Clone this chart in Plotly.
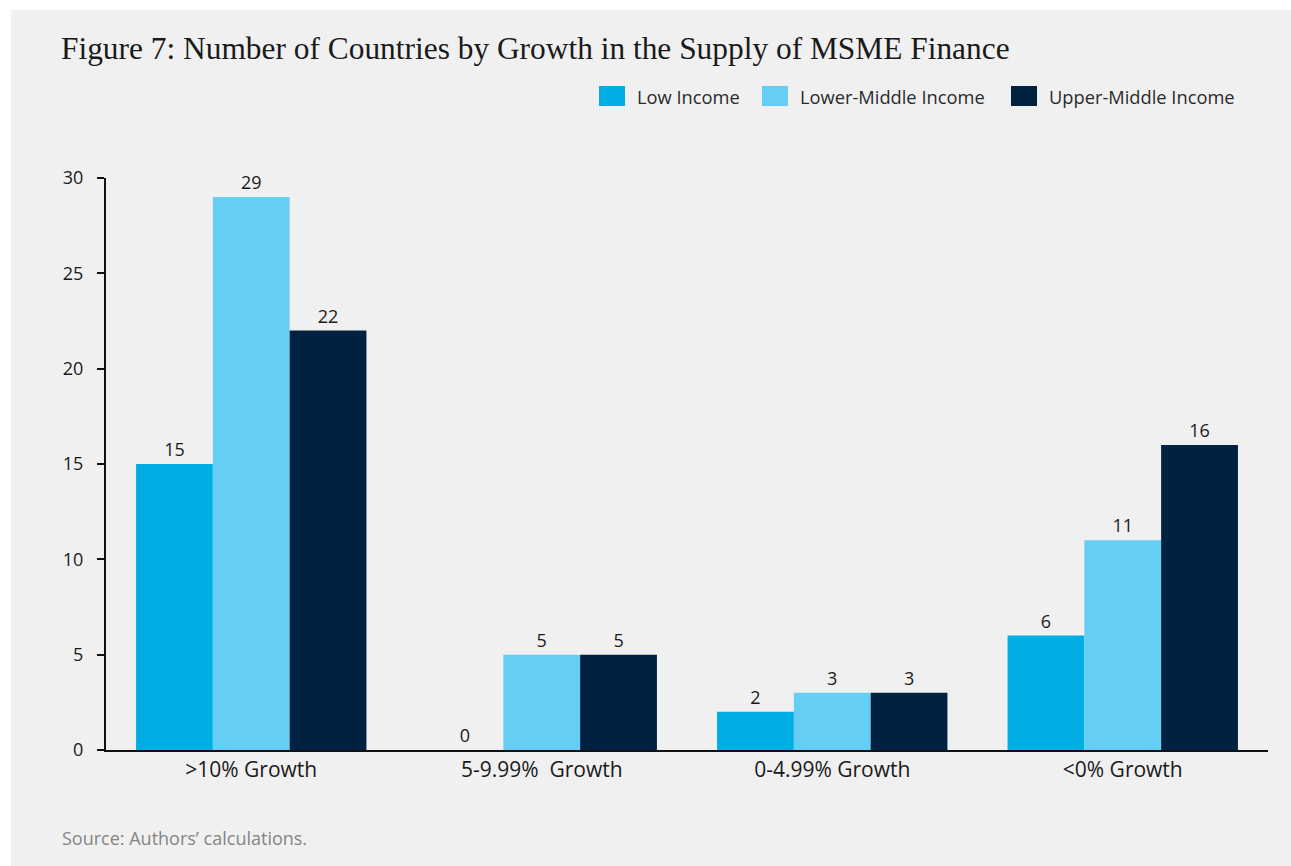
import plotly.graph_objects as go

# Growth bands on the x axis and country counts per income group
categories = [">10% Growth", "5-9.99%\u00a0\u00a0Growth", "0-4.99% Growth", "<0% Growth"]
series_names = ["Low Income", "Lower-Middle Income", "Upper-Middle Income"]
low_income = [15, 0, 2, 6]
lower_middle_income = [29, 5, 3, 11]
upper_middle_income = [22, 5, 3, 16]
y_ticks = [0, 5, 10, 15, 20, 25, 30]

colors = ["#00aee5", "#66cdf5", "#002242"]
sans = "Open Sans, Noto Sans, sans-serif"
serif = "Liberation Serif, DejaVu Serif, serif"

W, H = 1291, 866
L, R, T, B = 106, 23, 178, 116
pw, ph = W - L - R, H - T - B


def px(x):
    return (x - L) / pw


def py(y):
    return (H - B - y) / ph


fig = go.Figure()
for name, vals, col in zip(series_names,
                           [low_income, lower_middle_income, upper_middle_income],
                           colors):
    fig.add_trace(go.Bar(
        x=categories, y=vals, name=name,
        marker=dict(color=col, line=dict(width=0)),
        text=[str(v) for v in vals], textposition="outside",
        textfont=dict(family=sans, size=18, color="#1a1a1a"),
        cliponaxis=False, showlegend=False,
    ))

shapes = [
    # light grey card behind the whole chart
    dict(type="rect", xref="paper", yref="paper", layer="below",
         x0=px(11), x1=px(W + 5), y0=py(10), y1=py(H + 5),
         fillcolor="#f0f0f0", line=dict(width=0)),
]
annotations = [
    dict(text="Figure 7: Number of Countries by Growth in the Supply of MSME Finance",
         xref="paper", yref="paper", x=px(59), y=py(49), xanchor="left", yanchor="middle",
         showarrow=False, font=dict(family=serif, size=31.4, color="#1a1a1a")),
    dict(text="Source: Authors\u2019 calculations.",
         xref="paper", yref="paper", x=px(60), y=py(838), xanchor="left", yanchor="middle",
         showarrow=False, font=dict(family=sans, size=18, color="#858585")),
]

# legend drawn as coloured squares with labels
legend_x = [599, 762, 1011]
for name, col, lx in zip(series_names, colors, legend_x):
    shapes.append(dict(type="rect", xref="paper", yref="paper",
                       x0=px(lx), x1=px(lx + 26), y0=py(86), y1=py(106),
                       fillcolor=col, line=dict(width=0)))
    annotations.append(dict(text=name, xref="paper", yref="paper",
                            x=px(lx + 36), y=py(96), xanchor="left", yanchor="middle",
                            showarrow=False,
                            font=dict(family=sans, size=18.3, color="#2a2a2a")))

fig.update_layout(
    width=W, height=H,
    margin=dict(l=L, r=R, t=T, b=B, autoexpand=False),
    paper_bgcolor="#ffffff", plot_bgcolor="rgba(0,0,0,0)",
    barmode="group", bargap=0.207, bargroupgap=0,
    shapes=shapes, annotations=annotations,
    xaxis=dict(showgrid=False, showline=True, linecolor="#111111", linewidth=2,
               ticks="", tickfont=dict(family=sans, size=21, color="#1a1a1a"),
               zeroline=False),
    yaxis=dict(range=[0, 30], tickvals=y_ticks, showgrid=False, zeroline=False,
               showline=True, linecolor="#111111", linewidth=2,
               ticks="outside", ticklen=7, tickwidth=2, tickcolor="#111111",
               ticklabelstandoff=10,
               tickfont=dict(family=sans, size=18, color="#1a1a1a")),
)

fig.write_html("out.html")
